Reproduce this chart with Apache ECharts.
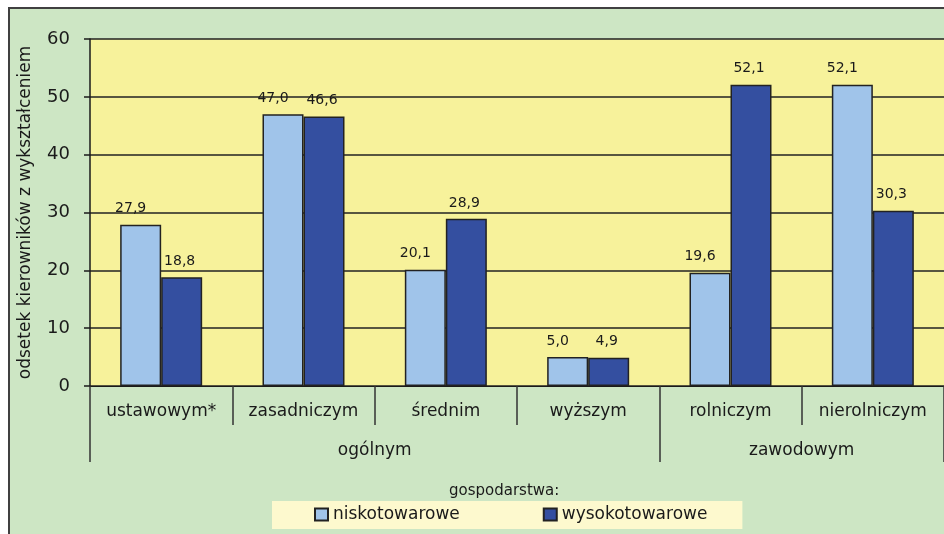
<!DOCTYPE html>
<html>
<head>
<meta charset="utf-8">
<script src="https://cdn.jsdelivr.net/npm/echarts@6/dist/echarts.min.js"></script>
<style>
html,body{margin:0;padding:0;background:#fff;}
#main{width:944px;height:534px;}
</style>
</head>
<body>
<div id="main"></div>
<script>
var categories = ['ustawowym*', 'zasadniczym', 'średnim', 'wyższym', 'rolniczym', 'nierolniczym'];
var groupNames = ['ogólnym', 'zawodowym'];
var groupSpans = [4, 2];
var seriesNames = ['niskotowarowe', 'wysokotowarowe'];
var lowValues = [27.9, 47.0, 20.1, 5.0, 19.6, 52.1];
var highValues = [18.8, 46.6, 28.9, 4.9, 52.1, 30.3];
var yTicks = [0, 10, 20, 30, 40, 50, 60];

var groupBounds = [0];
var groupCenters = [];
groupSpans.forEach(function (s, i) {
  var start = groupBounds[groupBounds.length - 1];
  groupCenters.push(start + s / 2);
  groupBounds.push(start + s);
});

var FONT = 'DejaVu Sans';
var TXT = '#1a1a1a';
function fmt(p) { return p.value.toFixed(1).replace('.', ','); }

var chart = echarts.init(document.getElementById('main'), null, {renderer: 'canvas'});
chart.setOption({
  backgroundColor: '#ffffff',
  animation: false,
  graphic: [{
    type: 'rect', z: -100, silent: true,
    shape: {x: 9, y: 8, width: 1000, height: 600},
    style: {fill: '#cde6c4', stroke: '#404040', lineWidth: 2}
  }],
  title: {
    text: 'gospodarstwa:', left: 449, top: 484,
    padding: 0,
    textStyle: {fontFamily: FONT, fontSize: 15, fontWeight: 'normal', color: TXT}
  },
  legend: {
    left: 272, top: 501,
    padding: [5, 35, 6, 42],
    itemGap: 83, itemWidth: 13, itemHeight: 12,
    backgroundColor: '#fdf9ce',
    icon: 'rect',
    textStyle: {fontFamily: FONT, fontSize: 17, color: TXT},
    data: seriesNames
  },
  grid: {
    left: 90, top: 39, width: 858, bottom: 148,
    show: true, backgroundColor: '#f7f29b', borderWidth: 0,
    containLabel: false
  },
  xAxis: [{
    type: 'category', data: categories, position: 'bottom',
    axisLine: {lineStyle: {color: '#1a1a1a', width: 1}},
    axisTick: {show: true, length: 39, lineStyle: {color: '#333', width: 1.5}},
    axisLabel: {fontFamily: FONT, fontSize: 17, color: TXT, margin: 17, interval: 0},
    splitLine: {show: false}
  }, {
    type: 'value', min: 0, max: 6, position: 'bottom',
    axisLine: {show: false},
    splitLine: {show: false},
    axisTick: {show: true, customValues: [groupBounds[0], groupBounds[1], groupBounds[2]], length: 76, lineStyle: {color: '#333', width: 1.5}},
    axisLabel: {
      customValues: groupCenters, margin: 56,
      fontFamily: FONT, fontSize: 17, color: TXT,
      formatter: function (v) {
        var i = groupCenters.indexOf(v);
        return i >= 0 ? groupNames[i] : '';
      }
    }
  }],
  yAxis: {
    type: 'value', min: yTicks[0], max: yTicks[yTicks.length - 1], interval: 10,
    name: 'odsetek kierowników z wykształceniem',
    nameLocation: 'middle', nameGap: 56, nameRotate: 90,
    nameTextStyle: {fontFamily: FONT, fontSize: 17, color: TXT},
    axisLine: {show: true, lineStyle: {color: '#1a1a1a', width: 1.5}},
    axisTick: {show: true, length: 6, lineStyle: {color: '#1a1a1a', width: 1.5}},
    axisLabel: {fontFamily: FONT, fontSize: 18, color: TXT, margin: 20},
    splitLine: {show: true, lineStyle: {color: '#222', width: 1.5}}
  },
  series: [{
    name: seriesNames[0], type: 'bar', data: lowValues, xAxisIndex: 0,
    barWidth: 41, barGap: '0%',
    itemStyle: {color: '#a0c4ea', borderColor: '#222', borderWidth: 1.5},
    label: {show: true, position: 'top', distance: 9, offset: [-10, 0],
      fontFamily: FONT, fontSize: 14, color: TXT, formatter: fmt}
  }, {
    name: seriesNames[1], type: 'bar', data: highValues, xAxisIndex: 0,
    barWidth: 41, barGap: '0%',
    itemStyle: {color: '#344fa0', borderColor: '#222', borderWidth: 1.5},
    label: {show: true, position: 'top', distance: 9, offset: [-2, 0],
      fontFamily: FONT, fontSize: 14, color: TXT, formatter: fmt}
  }]
});
</script>
</body>
</html>
